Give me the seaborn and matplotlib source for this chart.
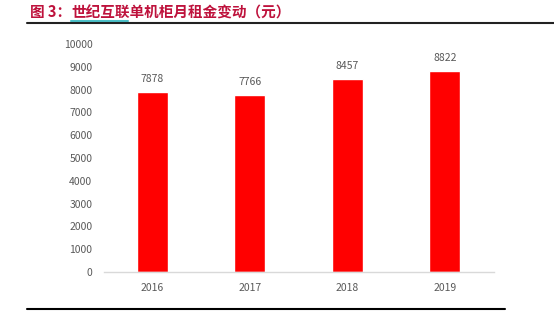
import matplotlib
matplotlib.use("Agg")
import matplotlib.pyplot as plt
import seaborn as sns
import pandas as pd
from matplotlib.lines import Line2D

years = ["2016", "2017", "2018", "2019"]
rents = [7878, 7766, 8457, 8822]
yticks = [0, 1000, 2000, 3000, 4000, 5000, 6000, 7000, 8000, 9000, 10000]
title_prefix = "图 3："
title_main = "世纪互联单机柜月租金变动（元）"

sns.set_theme(style="white")
plt.rcParams['font.family'] = ['Noto Sans CJK SC', 'DejaVu Sans']

df = pd.DataFrame({"year": years, "rent": rents})

W, H = 554, 312
fig = plt.figure(figsize=(W / 100, H / 100), dpi=100)
ax = fig.add_axes([103.5 / W, (H - 272) / H, (493.5 - 103.5) / W, (272 - 44) / H])

sns.barplot(data=df, x="year", y="rent", color="#FF0000", saturation=1,
            width=0.32, ax=ax)
ax.set_xlim(-0.5, 3.5)
ax.set_ylim(0, 10000)
ax.set_yticks(yticks)
ax.set_yticklabels([str(v) for v in yticks])
ax.set_xlabel("")
ax.set_ylabel("")
for s in ["top", "right", "left"]:
    ax.spines[s].set_visible(False)
ax.spines["bottom"].set_color("#D9D9D9")
ax.spines["bottom"].set_linewidth(1.0)
ax.tick_params(axis="both", length=0, labelsize=7.5, colors="#595959", pad=8)
ax.tick_params(axis="x", pad=8)

for i, v in enumerate(rents):
    ax.text(i, v + 350, str(v), ha="center", va="bottom", fontsize=7.5, color="#595959")

col = "#BE123C"
fig.text(30 / W, 1 - 12.5 / H, title_prefix, ha="left", va="center", fontsize=10.5,
         fontweight="bold", color=col)
fig.text(71 / W, 1 - 12.5 / H, title_main, ha="left", va="center", fontsize=10.5,
         fontweight="bold", color=col)
fig.add_artist(Line2D([71 / W, 128 / W], [1 - 20.5 / H, 1 - 20.5 / H],
                      color="#4BC0C8", lw=1.5, transform=fig.transFigure))
fig.add_artist(Line2D([27 / W, 1.0], [1 - 22.5 / H, 1 - 22.5 / H],
                      color="#222222", lw=1.5, transform=fig.transFigure))
fig.add_artist(Line2D([27 / W, 505 / W], [1 - 309 / H, 1 - 309 / H],
                      color="#000000", lw=1.5, transform=fig.transFigure))

fig.savefig("out.png", dpi=100)
